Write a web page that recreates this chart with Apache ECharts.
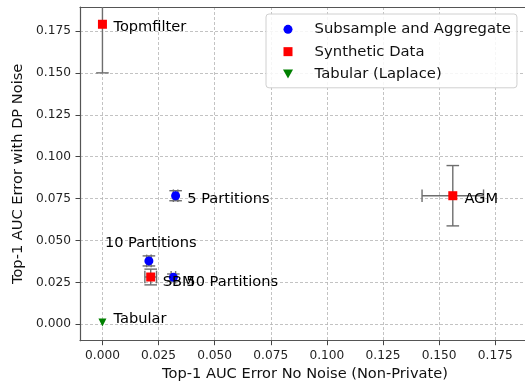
<!DOCTYPE html>
<html>
<head>
<meta charset="utf-8">
<script src="https://cdn.jsdelivr.net/npm/echarts@6/dist/echarts.min.js"></script>
<style>
  html, body { margin: 0; padding: 0; background: #fff; }
  #chart { width: 525px; height: 388px; }
</style>
</head>
<body>
<div id="chart"></div>
<script>
// Subsample-and-aggregate runs
const subsampleNames = ['5 Partitions', '10 Partitions', '50 Partitions'];
const subsampleNoNoise = [0.0326, 0.0207, 0.0316];
const subsampleDP = [0.0767, 0.0378, 0.0280];
const subsampleNoNoiseErr = [0.001, 0.001, 0.001];
const subsampleDPErr = [0.003, 0.003, 0.002];

// Synthetic data generators
const syntheticNames = ['Topmfilter', 'SBM', 'AGM'];
const syntheticNoNoise = [0.0, 0.0215, 0.1561];
const syntheticDP = [0.179, 0.0282, 0.0767];
const syntheticNoNoiseErr = [0.0, 0.0026, 0.0137];
const syntheticDPErr = [0.029, 0.0047, 0.018];

// Tabular release with Laplace noise
const tabularNames = ['Tabular'];
const tabularNoNoise = [0.0];
const tabularDP = [0.001];

// Axis tick values
const xTicks = [0, 0.025, 0.05, 0.075, 0.1, 0.125, 0.15, 0.175];
const yTicks = [0, 0.025, 0.05, 0.075, 0.1, 0.125, 0.15, 0.175];

const seriesNames = ['Subsample and Aggregate', 'Synthetic Data', 'Tabular (Laplace)'];

// ---- styling ----
const FONT = 'DejaVu Sans';
const SPINE = { color: '#555', width: 1.2 };
const X_RANGE = [-0.01, 0.1905];
const Y_RANGE = [-0.0098, 0.1893];
const labelNudge = {
  'Topmfilter': [11, 3],
  '5 Partitions': [11.6, 3.6],
  'AGM': [11.6, 3.6],
  '10 Partitions': [-44, -17.7],
  'SBM': [12, 5],
  '50 Partitions': [13, 4.4],
  'Tabular': [11, -3]
};

function points(names, xs, ys) {
  return names.map((n, i) => ({
    name: n,
    value: [xs[i], ys[i]],
    label: {
      show: true,
      formatter: n,
      position: 'inside',
      align: 'left',
      verticalAlign: 'middle',
      offset: labelNudge[n] || [10, 0],
      color: '#000',
      fontFamily: FONT,
      fontSize: 14.6
    }
  }));
}

const errRows = [];
subsampleNames.forEach((n, i) => errRows.push([subsampleNoNoise[i], subsampleDP[i], subsampleNoNoiseErr[i], subsampleDPErr[i]]));
syntheticNames.forEach((n, i) => errRows.push([syntheticNoNoise[i], syntheticDP[i], syntheticNoNoiseErr[i], syntheticDPErr[i]]));

const CAP = 6.3;
const ERR_STYLE = { stroke: '#6e6e6e', lineWidth: 1.4 };

function renderErrorBar(params, api) {
  const x = api.value(0), y = api.value(1), ex = api.value(2), ey = api.value(3);
  const cs = params.coordSys;
  const c = api.coord([x, y]);
  const top0 = cs.y, bot0 = cs.y + cs.height;
  const left0 = cs.x, right0 = cs.x + cs.width;
  const clampY = v => Math.max(top0, Math.min(bot0, v));
  const clampX = v => Math.max(left0, Math.min(right0, v));
  const kids = [];
  const seg = (x1, y1, x2, y2) => kids.push({ type: 'line', shape: { x1, y1, x2, y2 }, style: ERR_STYLE });
  if (ey > 0) {
    const t = api.coord([x, y + ey])[1];
    const b = api.coord([x, y - ey])[1];
    seg(c[0], clampY(t), c[0], clampY(b));
    if (t >= top0) seg(c[0] - CAP, t, c[0] + CAP, t);
    if (b <= bot0) seg(c[0] - CAP, b, c[0] + CAP, b);
  }
  if (ex > 0) {
    const l = api.coord([x - ex, y])[0];
    const r = api.coord([x + ex, y])[0];
    seg(clampX(l), c[1], clampX(r), c[1]);
    if (l >= left0) seg(l, c[1] - CAP, l, c[1] + CAP);
    if (r <= right0) seg(r, c[1] - CAP, r, c[1] + CAP);
  }
  return { type: 'group', children: kids };
}

const axisCommon = {
  type: 'value',
  axisLine: { show: true, onZero: false, lineStyle: SPINE },
  axisTick: { show: true, inside: false, length: 4.5, lineStyle: { color: '#444', width: 1 } },
  splitLine: { show: true, lineStyle: { color: '#b4b4b4', width: 0.8, type: [3, 2] } },
  axisLabel: { color: '#222', fontFamily: FONT, fontSize: 12.2, margin: 9, formatter: v => v.toFixed(3) },
  nameLocation: 'middle',
  nameTextStyle: { color: '#111', fontFamily: FONT, fontSize: 14.6 }
};

const chart = echarts.init(document.getElementById('chart'), null, { renderer: 'canvas' });
chart.setOption({
  animation: false,
  backgroundColor: '#fff',
  grid: {
    show: false, left: 80, top: 7, right: -5, height: 333.7,
    outerBoundsMode: 'none', containLabel: false
  },
  xAxis: [
    Object.assign({}, axisCommon, {
      position: 'bottom',
      min: X_RANGE[0], max: X_RANGE[1],
      name: 'Top-1 AUC Error No Noise (Non-Private)',
      nameGap: 24,
      axisTick: Object.assign({}, axisCommon.axisTick, { customValues: xTicks }),
      axisLabel: Object.assign({}, axisCommon.axisLabel, { customValues: xTicks })
    }),
    {
      // top spine only
      type: 'value', position: 'top',
      min: X_RANGE[0], max: X_RANGE[1],
      axisLine: { show: true, onZero: false, lineStyle: SPINE },
      axisTick: { show: false }, axisLabel: { show: false }, splitLine: { show: false }
    }
  ],
  yAxis: Object.assign({}, axisCommon, {
    min: Y_RANGE[0], max: Y_RANGE[1],
    name: 'Top-1 AUC Error with DP Noise',
    nameGap: 45,
    axisTick: Object.assign({}, axisCommon.axisTick, { customValues: yTicks }),
    axisLabel: Object.assign({}, axisCommon.axisLabel, { customValues: yTicks })
  }),
  legend: {
    data: [
      { name: seriesNames[0], icon: 'circle' },
      { name: seriesNames[1], icon: 'path://M0,0L10,0L10,10L0,10Z' },
      { name: seriesNames[2], icon: 'path://M0,0L10,0L5,9Z' }
    ],
    orient: 'vertical',
    left: 266, top: 14,
    padding: [6.5, 6, 5, 17],
    itemWidth: 43.2, itemHeight: 9, itemGap: 4.6,
    backgroundColor: 'rgba(255,255,255,0.85)',
    borderColor: '#d0d0d0', borderWidth: 1, borderRadius: 3,
    textStyle: { color: '#111', fontFamily: FONT, fontSize: 14.8, lineHeight: 17.7 }
  },
  series: [
    {
      type: 'custom', name: 'errorbars', silent: true, z: 1,
      renderItem: renderErrorBar,
      encode: { x: 0, y: 1 },
      data: errRows
    },
    {
      type: 'scatter', name: seriesNames[0], z: 3,
      symbol: 'circle', symbolSize: 9,
      itemStyle: { color: '#0000ff', opacity: 1 },
      data: points(subsampleNames, subsampleNoNoise, subsampleDP)
    },
    {
      type: 'scatter', name: seriesNames[1], z: 3,
      symbol: 'rect', symbolSize: 9,
      itemStyle: { color: '#ff0000', opacity: 1 },
      data: points(syntheticNames, syntheticNoNoise, syntheticDP)
    },
    {
      type: 'scatter', name: seriesNames[2], z: 3,
      symbol: 'triangle', symbolRotate: 180, symbolSize: [8, 8],
      itemStyle: { color: '#008000', opacity: 1 },
      data: points(tabularNames, tabularNoNoise, tabularDP)
    }
  ]
});
</script>
</body>
</html>
